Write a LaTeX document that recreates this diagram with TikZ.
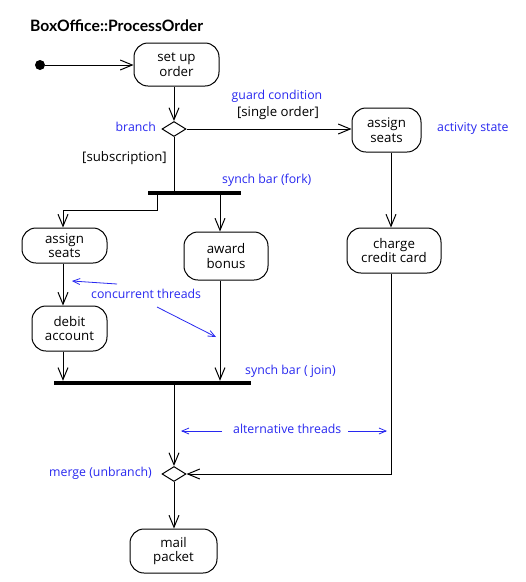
\documentclass[tikz,border=0pt]{standalone}
\usepackage{fontspec}
\setmainfont{Open Sans}
\newfontfamily\titlefont{Lato}
\usetikzlibrary{arrows.meta,shapes.geometric}
\definecolor{annblue}{RGB}{40,40,240}
\begin{document}
\begin{tikzpicture}[x=1pt,y=-1pt,
  act/.style={draw, line width=1pt, rounded corners=14pt, align=center,
    font=\fontsize{13.3}{14.5}\selectfont, inner sep=0pt},
  bar/.style={fill, inner sep=0pt, minimum height=4pt},
  dia/.style={diamond, draw, line width=1pt, inner sep=0pt, minimum width=24pt, minimum height=15pt},
  flow/.style={line width=1pt, -{Straight Barb[length=12pt,width=10pt,line width=1pt]}},
  plain/.style={line width=1pt},
  ann/.style={text=annblue, font=\fontsize{12.3}{14}\selectfont, inner sep=0pt, text height=9pt, text depth=3pt},
  guard/.style={font=\fontsize{13.2}{14}\selectfont, inner sep=0pt, text height=9.5pt, text depth=3pt},
  annarrow/.style={annblue, line width=0.8pt, -{Straight Barb[length=7pt,width=6pt,line width=0.8pt]}}]
\useasboundingbox (0,0) rectangle (526,582);
\fill[white] (0,0) rectangle (526,582);

% title
\node[anchor=west, inner sep=0pt, font=\titlefont\bfseries\fontsize{15.7}{17}\selectfont] (title) at (30,26) {BoxOffice::ProcessOrder};

% nodes
\node[circle, fill, inner sep=0pt, minimum size=10pt] (start) at (40,65) {};
\node[act, minimum width=85pt, minimum height=43pt] (setup) at (176.5,64.5) {set up\\order};
\node[dia] (branch) at (174,129) {};
\node[act, minimum width=69pt, minimum height=44pt] (seatsR) at (386.5,130) {assign\\seats};
\node[bar, minimum width=93pt] (fork) at (194.5,193) {};
\node[act, minimum width=85pt, minimum height=35pt] (seatsL) at (64.5,245.5) {assign\\seats};
\node[act, minimum width=84pt, minimum height=48pt] (award) at (226,256) {award\\bonus};
\node[act, minimum width=94pt, minimum height=45pt] (charge) at (394,250.5) {charge\\credit card};
\node[act, minimum width=75pt, minimum height=45pt] (debit) at (69.5,328.5) {debit\\account};
\node[bar, minimum width=197pt] (join) at (152.5,383) {};
\node[dia] (merge) at (174,474) {};
\node[act, minimum width=87pt, minimum height=44pt] (mail) at (173.5,551) {mail\\packet};

% connectors
\draw[flow] (start) -- (start -| setup.west);
\draw[flow] (setup.south -| branch) -- (branch.north);
\draw[flow] (branch.east) -- (branch.east -| seatsR.west);
\draw[plain] (branch.south) -- (branch.south |- fork.north);
\draw[flow] (fork.south -| 157,0) |- (63,210) -- (seatsL.north -| 63,0);
\draw[flow] (fork.south -| 220,0) -- (award.north -| 220,0);
\draw[flow] (seatsL.south -| 63,0) -- (debit.north -| 63,0);
\draw[flow] (debit.south -| 63,0) -- (join.north -| 63,0);
\draw[flow] (award.south -| 220,0) -- (join.north -| 220,0);
\draw[flow] (seatsR.south -| 391,0) -- (charge.north -| 391,0);
\draw[flow] (join.south -| merge) -- (merge.north);
\draw[flow] (charge.south -| 391,0) |- (merge.east);
\draw[flow] (merge.south) -- (mail.north -| merge);

% labels
\node[ann, anchor=east] (lbranch) at (156,128) {branch};
\node[ann] (lguard) at (277,96) {guard condition};
\node[guard] (lsingle) at (278,113) {[single order]};
\node[ann, anchor=west] (lactivity) at (437,128) {activity state};
\node[guard] (lsub) at (124.5,158) {[subscription]};
\node[ann, anchor=west] (lfork) at (222,180) {synch bar (fork)};
\node[ann, anchor=west] (lconc) at (91,295) {concurrent threads};
\node[ann, anchor=west] (ljoin) at (245,371) {synch bar ( join)};
\node[ann, anchor=west] (lalt) at (233,430) {alternative threads};
\node[ann, anchor=east] (lmerge) at (152,473) {merge (unbranch)};

% annotation arrows
\coordinate (c1s) at (117,284);
\coordinate (c1e) at (72,281);
\coordinate (c2s) at (157,307);
\coordinate (c2e) at (216,337);
\coordinate (a1s) at (222,431);
\coordinate (a1e) at (181,431);
\coordinate (a2s) at (348,431);
\coordinate (a2e) at (387,431);
\draw[annarrow] (c1s) -- (c1e);
\draw[annarrow] (c2s) -- (c2e);
\draw[annarrow] (a1s) -- (a1e);
\draw[annarrow] (a2s) -- (a2e);
\end{tikzpicture}
\end{document}
